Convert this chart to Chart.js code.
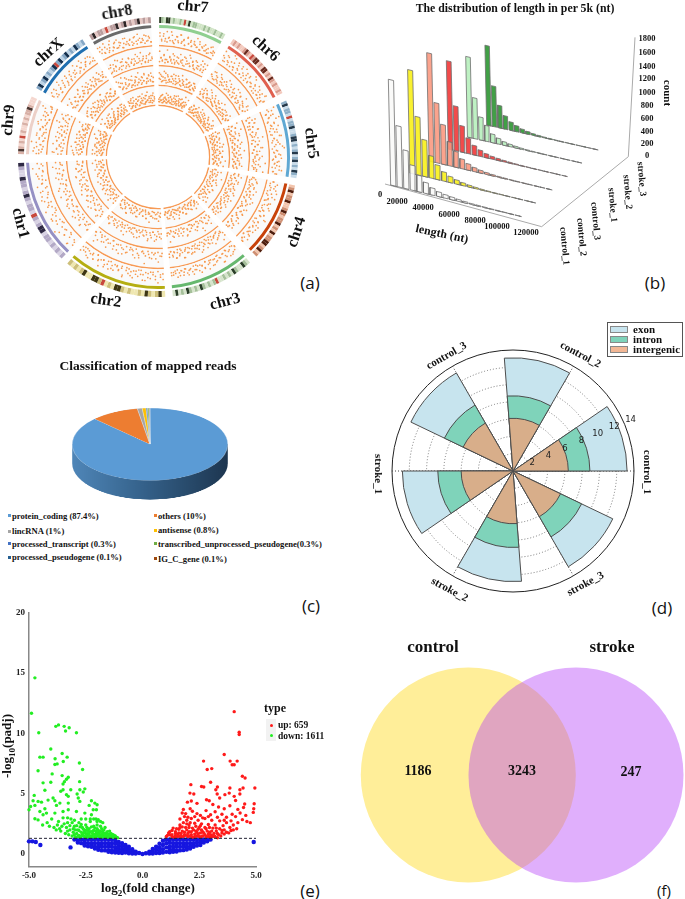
<!DOCTYPE html>
<html>
<head>
<meta charset="utf-8">
<title>Figure</title>
<script src="https://cdn.jsdelivr.net/npm/chart.js@4"></script>
<style>
html, body { margin: 0; padding: 0; background: #fff; }
#page { position: relative; width: 685px; height: 899px; overflow: hidden; }
#page canvas { position: absolute; }
.lbl { position: absolute; white-space: nowrap; line-height: 1; color: #111; transform-origin: center; }
.lbl sub { font-size: 70%; line-height: 0; }
.swatch { position: absolute; }
</style>
</head>
<body>
<div id="page"></div>
<script>
// ---------- DATA: (a) circos ----------
const chrNames = ['chr7', 'chr6', 'chr5', 'chr4', 'chr3', 'chr2', 'chr1', 'chr9', 'chrX', 'chr8'];
const chrStart = [0.5, 32.5, 66.2, 101.7, 138.9, 177, 223.5, 271.2, 299.5, 330.5];
const chrEnd = [28.8, 62.8, 98.7, 135.3, 173.9, 220.4, 267.5, 295.6, 327.3, 357];
const chrColors = ['#8fcf90', '#e0604f', '#5fa8d3', '#c8420a', '#66b86e', '#b5ae12', '#9590c4', '#ecd0c8', '#1f6fb0', '#6a6a6a'];
const chrBands = [
    'dmlddlmwlmlrwdlmmlwlmlmwlmllml',
    'lmlmllmdmlrmddlmlddlmldmlmllml',
    'mdlmmlrlmmdllmddlmlmdlmdlmldml',
    'lmdlmmdllmdmlmmdlmldlmmddlmdlm',
    'lmdllmdlmlmllrmlmlmdlmlmdlmldl',
    'ldmlmdlmllmlmddlmlrmddlldmlmlm',
    'mlmlmlmmlddmlmrlmmlmdmlmmdllmd',
    'mdmlmlrlmllmlmlmmdmlll',
    'mdlmdlmlmdrmdlmdlmldmlm',
    'mdlmmlrlmmdlmdlmlmdlmlm'
];
const bandPalettes = [
    ['#cfe3c4', '#9fbf96', '#2c3a24'], ['#f3c9bd', '#d99a8c', '#6a2a1e'],
    ['#c9dcea', '#8fb0c8', '#24384a'], ['#f2c4ac', '#cf8f72', '#4f1d0c'],
    ['#d6e4cc', '#a5c09a', '#2a3e28'], ['#efe7b0', '#cdbf7a', '#3e3612'],
    ['#d9d3e4', '#b3a9c6', '#2f2a44'], ['#f5d7cf', '#d8b0a6', '#4a3530'],
    ['#bcd3e6', '#86a8c6', '#14304e'], ['#e6c8c4', '#b99c9c', '#2e2626']
];
const trackBase = [112, 92, 72, 52];
// scatter heights above each track baseline, per chromosome (estimated)
const chrHeights = [
    [.7, .3, .5, .2, .8, .4, .25, .6, .15, .35, .55, .2, .7, .3, .45, .1, .65, .25, .4, .15, .5, .3, .2, .6, .12, .35, .45, .18, .3, .1, .55, .25, .4, .15],
    [.5, .2, .65, .35, .15, .45, .8, .25, .1, .55, .3, .7, .2, .4, .12, .6, .28, .5, .18, .35, .75, .22, .45, .1, .3, .55, .2, .4, .15, .62, .25, .35],
    [.8, .4, .2, .6, .3, .9, .15, .5, .25, .7, .35, .1, .55, .2, .75, .3, .45, .12, .6, .25, .85, .35, .18, .5, .28, .65, .1, .4, .22, .55, .3, .7, .16, .42],
    [.35, .6, .15, .45, .25, .7, .1, .5, .3, .2, .55, .4, .12, .65, .28, .18, .5, .35, .75, .1, .42, .22, .6, .3, .15, .5, .25, .38, .1, .55, .2, .33],
    [.3, .15, .5, .25, .6, .1, .4, .2, .7, .3, .12, .45, .22, .55, .16, .35, .1, .5, .28, .65, .18, .38, .1, .42, .25, .55, .14, .32, .2, .48, .1, .3, .22, .4],
    [.25, .45, .1, .6, .3, .15, .5, .2, .7, .35, .1, .4, .22, .55, .16, .3, .65, .12, .45, .25, .18, .5, .1, .35, .6, .2, .28, .42, .12, .5, .18, .3, .55, .15, .38, .22],
    [.6, .3, .8, .4, .15, .55, .25, .7, .35, .1, .5, .2, .65, .3, .45, .12, .75, .25, .4, .18, .55, .3, .6, .15, .45, .22, .7, .35, .1, .5, .28, .62, .2, .4, .16, .5],
    [.4, .75, .2, .55, .3, .9, .15, .45, .65, .25, .1, .5, .35, .7, .2, .6, .12, .4, .3, .55, .18, .8, .25],
    [.55, .25, .4, .7, .15, .35, .6, .2, .45, .1, .3, .65, .22, .5, .14, .4, .25, .75, .18, .35, .1, .55, .28, .42, .16, .6, .2, .33],
    [.45, .7, .25, .55, .15, .4, .8, .3, .6, .2, .5, .12, .35, .65, .25, .45, .1, .55, .3, .72, .18, .4, .6, .22, .5, .15]
];

// ---------- DATA: (b) length distribution ----------
const sampleNames = ['control_1', 'control_2', 'control_3', 'stroke_1', 'stroke_2', 'stroke_3'];
const sampleColors = ['rgba(250,250,248,.9)', 'rgba(248,240,30,.92)', 'rgba(250,150,125,.88)', 'rgba(240,50,50,.88)', 'rgba(185,240,190,.92)', 'rgba(55,155,60,.95)'];
const control1Counts = [1350, 780, 490, 320, 210, 140, 90, 60, 45, 35, 25, 18, 12, 10, 8, 6, 5, 4, 3, 2];
const control2Counts = [1350, 760, 480, 290, 190, 120, 80, 55, 38, 26, 18, 12, 8, 6, 5, 4, 3, 2, 2, 1];
const control3Counts = [1445, 800, 530, 320, 210, 130, 85, 55, 38, 26, 18, 12, 9, 7, 5, 4, 3, 2, 2, 1];
const stroke1Counts = [1205, 610, 360, 210, 130, 85, 55, 38, 28, 20, 14, 10, 7, 5, 4, 3, 2, 2, 1, 1];
const stroke2Counts = [1125, 570, 320, 220, 120, 80, 50, 35, 24, 16, 11, 8, 6, 4, 3, 2, 2, 1, 1, 1];
const stroke3Counts = [1140, 580, 320, 190, 120, 85, 55, 38, 25, 17, 12, 9, 6, 5, 4, 3, 2, 2, 1, 1];
const lengthTicks = ['0', '20000', '40000', '60000', '80000', '100000', '120000'];
const countTicks = ['0', '200', '400', '600', '800', '1000', '1200', '1400', '1600', '1800'];

// ---------- DATA: (c) classification ----------
const readClasses = ['protein_coding', 'others', 'lincRNA', 'antisense', 'processed_transcript', 'transcribed_unprocessed_pseudogene', 'processed_pseudogene', 'IG_C_gene'];
const readShares = [87.4, 10, 1, 0.8, 0.3, 0.3, 0.1, 0.1];
const readColors = ['#5b9bd5', '#ed7d31', '#a5a5a5', '#ffc000', '#4472c4', '#70ad47', '#255e91', '#9e480e'];

// ---------- DATA: (d) rose ----------
// clockwise from the top
const roseSamples = ['control_2', 'control_1', 'stroke_3', 'stroke_2', 'stroke_1', 'control_3'];
const intergenic = [6.1, 6.4, 6.1, 6.1, 6.0, 6.4];
const intron = [2.6, 2.5, 2.7, 2.75, 2.7, 2.4];
const exon = [4.4, 4.3, 4.0, 3.95, 4.1, 4.3];
const roseTicks = [2, 4, 6, 8, 10, 12, 14];

// ---------- DATA: (e) volcano ----------
const volcanoXTicks = [-5, -2.5, 0, 2.5, 5];
const volcanoYTicks = [0, 5, 10, 15, 20];
const padjCut = 1.3;
const downPoints = [
    [-4.74, 14.6], [-4.89, 11.67], [-4.57, 10.05], [-3.82, 10.58], [-3.7, 10.7], [-3.45, 10.58], [-3.39, 10.2], [-3.23, 10.47], [-2.91, 10.05],
    [-4.04, 8.7], [-3.54, 8.33], [-3.32, 8.03], [-4.52, 8.03], [-4.38, 8.03], [-3.85, 7.9], [-3.49, 7.67], [-3.86, 7.42], [-3.76, 7.47], [-2.78, 7.55],
    [-4.6, 6.9], [-3.98, 6.64], [-2.64, 7.0], [-3.54, 6.5], [-3.27, 6.36], [-3.35, 6.2], [-3.44, 6.0], [-3.5, 5.8], [-2.77, 6.0], [-4.38, 5.9], [-4.04, 5.95],
    [-4.77, 4.86], [-4.3, 5.28], [-3.6, 5.2], [-3.5, 5.33], [-3.16, 5.33], [-2.76, 5.33], [-2.54, 5.4], [-2.61, 5.14], [-2.88, 4.97], [-3.35, 4.92], [-3.27, 4.78],
    [-2.83, 4.64], [-3.94, 4.64], [-3.86, 4.42], [-4.16, 4.47], [-4.6, 4.36], [-4.45, 4.3], [-4.82, 4.42], [-4.93, 3.94], [-4.74, 4.03], [-5, 3.67],
    [-2.25, 4.42], [-2.1, 4.22], [-2.0, 4.08], [-2.35, 4.03], [-2.76, 4.36], [-3.27, 4.22], [-3.64, 4.22], [-3.79, 4.03], [-4.3, 3.75], [-4.52, 3.53],
    [-4.74, 2.92], [-4.6, 2.83], [-4.38, 3.25], [-4.23, 3.39], [-3.86, 3.39], [-3.5, 3.53], [-3.27, 3.67], [-2.91, 3.53], [-2.54, 3.39], [-2.17, 3.67], [-2.25, 3.25], [-2.03, 3.67],
    [-4.4, 2.4], [-4.2, 2.6], [-4.1, 2.3], [-4.0, 2.9], [-3.9, 2.2], [-3.8, 2.0], [-3.7, 2.7], [-3.6, 1.9], [-3.55, 2.3], [-3.5, 3.0], [-3.4, 1.7], [-3.35, 2.2], [-3.3, 2.6],
    [-3.25, 1.6], [-3.2, 2.0], [-3.15, 2.9], [-3.1, 1.5], [-3.05, 1.8], [-3.0, 2.3], [-2.95, 1.4], [-2.9, 1.7], [-2.85, 2.0], [-2.8, 2.6], [-2.75, 1.4], [-2.7, 1.8], [-2.65, 2.2],
    [-2.6, 1.5], [-2.55, 1.9], [-2.5, 2.4], [-2.45, 1.4], [-2.4, 1.7], [-2.35, 2.1], [-2.3, 2.7], [-2.25, 1.5], [-2.2, 1.9], [-2.15, 2.3], [-2.1, 1.4], [-2.05, 1.7], [-2.0, 2.1],
    [-2.0, 2.7], [-1.95, 1.5], [-1.9, 1.9], [-1.85, 2.3], [-1.8, 1.4], [-1.75, 1.7], [-1.7, 2.0], [-1.65, 1.45], [-1.6, 1.75], [-1.55, 1.4], [-1.5, 1.6], [-1.45, 1.9], [-1.4, 1.45],
    [-1.35, 1.65], [-1.3, 1.4], [-1.25, 1.55], [-1.15, 1.4], [-2.85, 1.45], [-2.65, 1.6], [-2.5, 1.7], [-2.3, 1.45], [-2.15, 1.65], [-1.95, 1.75], [-1.85, 1.55], [-1.7, 1.5],
    [-3.75, 2.4], [-3.65, 2.1], [-3.45, 2.5], [-3.3, 1.9], [-3.2, 2.35], [-3.1, 2.6], [-3.05, 2.1], [-3, 1.6], [-2.95, 2.0], [-2.9, 2.35], [-2.8, 1.55], [-2.8, 1.95], [-2.75, 2.25],
    [-2.7, 1.5], [-2.7, 2.45], [-2.6, 1.75], [-2.6, 2.05], [-2.55, 1.45], [-2.5, 1.95], [-2.45, 1.6], [-2.45, 2.2], [-2.4, 1.45], [-2.4, 1.95], [-2.35, 1.65], [-2.3, 1.85], [-2.25, 2.25],
    [-2.2, 1.45], [-2.2, 1.7], [-2.15, 1.95], [-2.1, 1.6], [-2.1, 2.15], [-2.05, 1.45], [-2.05, 1.9], [-2, 1.55], [-2, 2.4], [-1.95, 1.95], [-1.9, 1.45], [-1.9, 1.65], [-1.85, 1.85],
    [-1.85, 2.7], [-1.8, 1.6], [-1.8, 2.1], [-1.75, 1.45], [-1.75, 1.9], [-1.7, 1.7], [-1.65, 1.6], [-1.65, 2.2], [-1.6, 1.45], [-1.55, 1.6], [-1.55, 1.85], [-1.5, 1.42], [-1.45, 1.65],
    [-1.4, 1.7], [-1.35, 1.45], [-1.3, 1.6], [-1.25, 1.4], [-1.2, 1.5], [-1.1, 1.35], [-2.3, 2.9], [-2.15, 2.9], [-2.05, 2.9], [-1.95, 2.85], [-1.75, 2.6], [-2.5, 2.9], [-2.7, 2.9], [-3, 2.8], [-3.3, 3.0]
];
const upPoints = [
    [4.04, 11.8], [4.26, 10.1], [4.26, 9.9], [3.6, 8.25], [2.69, 7.7], [3.86, 7.7], [3.95, 7.4], [4.04, 7.4], [4.17, 7.7], [2.85, 7.0], [3.05, 7.08], [4.4, 6.45], [4.52, 6.3],
    [3.0, 5.95], [2.13, 5.75], [2.6, 5.6], [2.7, 5.55], [3.3, 5.55], [3.85, 5.47], [4.95, 5.47], [3.23, 5.33], [4.29, 5.33], [4.43, 5.47], [2.09, 5.05], [2.26, 4.97], [3.29, 4.97],
    [3.63, 4.92], [3.4, 4.64], [3.82, 5.05], [4.04, 4.78], [4.29, 4.97], [2.82, 4.5], [2.94, 4.42], [4.1, 4.44], [4.5, 4.14], [4.92, 4.17], [1.98, 4.3], [2.15, 4.4], [2.4, 4.2],
    [3.1, 4.1], [3.35, 3.9], [3.6, 3.75], [3.85, 4.0], [4.2, 3.7], [4.45, 3.85], [4.9, 3.75], [1.75, 3.4], [1.85, 3.1], [2.1, 3.75], [2.2, 3.55], [2.4, 3.35], [2.55, 3.2], [2.8, 3.6],
    [3.0, 3.25], [3.2, 3.5], [3.5, 3.3], [3.7, 3.05], [3.95, 3.3], [4.1, 3.1], [4.3, 3.4], [4.55, 3.2], [4.88, 3.45], [4.4, 2.85], [4.6, 2.7], [4.75, 2.6], [4.2, 2.6], [3.9, 2.75],
    [1.65, 2.9], [1.65, 2.4], [1.8, 2.6], [1.95, 2.8], [2.05, 2.4], [2.15, 2.95], [2.3, 2.55], [2.45, 2.8], [2.6, 2.5], [2.75, 2.95], [2.9, 2.45], [3.05, 2.8], [3.2, 2.4], [3.4, 2.75],
    [3.55, 2.35], [3.7, 2.6], [3.85, 2.2], [4.0, 2.4], [4.15, 2.1], [3.6, 2.0], [3.4, 2.1], [3.25, 1.9], [3.1, 2.15], [2.95, 1.8], [2.8, 2.1], [2.65, 1.85], [2.5, 2.2], [2.35, 1.9],
    [2.2, 2.15], [2.05, 1.85], [1.9, 2.2], [1.75, 1.9], [1.6, 2.05], [1.45, 1.85], [1.3, 1.95], [1.2, 1.6], [1.05, 1.45], [1.15, 1.75], [1.3, 1.45], [1.45, 1.5], [1.55, 1.65], [1.7, 1.45],
    [1.85, 1.6], [2.0, 1.45], [2.15, 1.6], [2.3, 1.45], [2.45, 1.65], [2.6, 1.45], [2.75, 1.6], [2.9, 1.45], [3.05, 1.55], [3.2, 1.45], [3.35, 1.6], [3.5, 1.75], [3.0, 1.4], [3.3, 1.35],
    [1.1, 1.55], [1.2, 1.85], [1.3, 1.6], [1.35, 2.15], [1.4, 1.4], [1.45, 1.7], [1.5, 2.1], [1.55, 1.45], [1.6, 1.75], [1.65, 1.5], [1.65, 2.2], [1.7, 1.7], [1.75, 2.25], [1.8, 1.45],
    [1.85, 1.8], [1.9, 1.55], [1.95, 2.0], [1.95, 2.5], [2, 1.7], [2.05, 2.2], [2.1, 1.5], [2.1, 2.6], [2.15, 1.85], [2.2, 1.4], [2.25, 2.0], [2.3, 1.65], [2.35, 2.3], [2.4, 1.5], [2.4, 1.8],
    [2.45, 2.05], [2.5, 1.45], [2.55, 1.75], [2.55, 2.35], [2.6, 2.0], [2.65, 1.5], [2.7, 1.75], [2.75, 2.2], [2.8, 1.45], [2.85, 1.9], [2.9, 1.65], [2.95, 2.2], [3, 1.6], [3.05, 1.9],
    [3.1, 1.45], [3.15, 1.7], [3.25, 2.15], [3.3, 1.7], [3.45, 1.5], [3.5, 1.95], [3.6, 1.65], [3.7, 1.8], [3.8, 1.75], [3.9, 1.95], [4, 2.0], [1.8, 3.7], [1.9, 3.35], [2.0, 3.05], [2.3, 3.1],
    [2.65, 3.0], [2.9, 3.1], [3.3, 3.05], [3.6, 2.8]
];
// y values by x column, the dense band under the cut line
const nsColumns = [
    [-3, [1.2]], [-2.85, [1.15, .95]], [-2.7, [1.2, .9]], [-2.55, [1.2, .95, .7]], [-2.4, [1.2, .9, .65]], [-2.25, [1.2, .9, .6]], [-2.1, [1.2, .9, .6, .45]],
    [-1.95, [1.2, .9, .6, .35]], [-1.8, [1.2, .9, .6, .3]], [-1.65, [1.2, .9, .6, .3]], [-1.5, [1.2, .9, .6, .3, .18]], [-1.35, [1.2, .9, .6, .3, .15]],
    [-1.2, [1.1, .85, .55, .3, .12]], [-1.05, [1, .75, .5, .25, .1]], [-.9, [.9, .65, .4, .2, .08]], [-.75, [.75, .5, .3, .12]], [-.6, [.6, .4, .2, .06]],
    [-.45, [.4, .25, .05]], [-.3, [.2, .05]], [-.15, [.08]], [0, [0]], [.15, [.06]], [.3, [.2, .04]], [.45, [.42, .2, .04]], [.6, [.6, .35, .08]],
    [.75, [.85, .55, .25, .08]], [.9, [1.1, .75, .4, .12]], [1.05, [1.2, .9, .55, .18]], [1.2, [1.2, .95, .65, .35, .15]], [1.35, [1.2, .9, .6, .35, .18]],
    [1.5, [1.2, .9, .6, .3, .2]], [1.65, [1.2, .9, .6, .3]], [1.8, [1.2, .9, .6, .32]], [1.95, [1.2, .9, .6, .38]], [2.1, [1.2, .9, .65, .45]], [2.25, [1.2, .9, .6]],
    [2.4, [1.2, .95, .7]], [2.55, [1.2, .95, .75]], [2.7, [1.2, .95]], [2.85, [1.2, 1.05]], [3, [1.2]],
    [-5, [1.05]], [-4.85, [1.05]], [-4.7, [1]], [-4.5, [.75]], [-3.17, [.55]], [4.9, [1]]
];

// ---------- DATA: (f) venn ----------
const vennSets = ['stroke', 'control'];
const vennX = [1, 0];
const vennColors = ['rgba(179,60,248,.41)', 'rgb(255,238,153)'];
const vennCounts = ['1186', '3243', '247'];

// ---------- HELPERS ----------
const SERIF = '"Liberation Serif", serif';
const page = document.getElementById('page');
Chart.defaults.animation = false;
Chart.defaults.layout.autoPadding = false;
Chart.defaults.plugins.legend.display = false;
Chart.defaults.plugins.tooltip.enabled = false;

function addCanvas(x, y, w, h) {
    const c = document.createElement('canvas');
    c.width = w; c.height = h;
    c.style.cssText = `left:${x}px;top:${y}px;width:${w}px;height:${h}px`;
    page.appendChild(c);
    return c;
}

function label(html, x, y, size, rot = 0, opts = {}) {
    const d = document.createElement('div');
    d.className = 'lbl';
    d.innerHTML = html;
    const ax = opts.left ? '0' : '-50%';
    d.style.cssText = `left:${x}px;top:${y}px;font:${opts.weight || 'bold'} ${size}px ${opts.family || SERIF};transform:translate(${ax},-50%) rotate(${rot}deg)`;
    page.appendChild(d);
}

function swatch(x, y, w, h, color, extra = '') {
    const d = document.createElement('div');
    d.className = 'swatch';
    d.style.cssText = `left:${x}px;top:${y}px;width:${w}px;height:${h}px;background:${color};${extra}`;
    page.appendChild(d);
}

const panelFont = { weight: 'normal', family: '"Open Sans", sans-serif' };
label('(a)', 310, 282, 17, 0, panelFont);
label('(b)', 655, 282, 17, 0, panelFont);
label('(c)', 311, 605, 17, 0, panelFont);
label('(d)', 662, 607, 17, 0, panelFont);
label('(e)', 310, 890, 17, 0, panelFont);
label('(f)', 664, 890, 15, 0, panelFont);

// ---------- (a) CIRCOS ----------
function ringData(colorFor) {
    // one slice per chromosome with a transparent gap before it
    const data = [], colors = [];
    let prev = 0;
    chrNames.forEach((_, i) => {
        data.push(chrStart[i] - prev); colors.push('transparent');
        data.push(chrEnd[i] - chrStart[i]); colors.push(colorFor(i));
        prev = chrEnd[i];
    });
    data.push(360 - prev); colors.push('transparent');
    return { data, backgroundColor: colors, borderWidth: 0 };
}

function bandRing() {
    const data = [], colors = [];
    let prev = 0;
    chrNames.forEach((_, i) => {
        data.push(chrStart[i] - prev); colors.push('transparent');
        const step = (chrEnd[i] - chrStart[i]) / chrBands[i].length;
        [...chrBands[i]].forEach(ch => {
            data.push(step);
            const shade = { l: 0, w: 0, m: 1, d: 2 }[ch];
            colors.push(ch === 'r' ? '#c8483c' : bandPalettes[i][shade]);
        });
        prev = chrEnd[i];
    });
    data.push(360 - prev); colors.push('transparent');
    return { data, backgroundColor: colors, borderWidth: 0 };
}

const blank = () => ({ ...ringData(() => 'transparent'), weight: 2 });
const trackFill = w => ({ ...ringData(() => '#fafafa'), weight: w });
const baseline = () => ({ ...ringData(() => '#f79a55'), weight: 1.5 });

new Chart(addCanvas(18, 17, 280, 280), {
    type: 'doughnut',
    data: {
        datasets: [
            { ...bandRing(), weight: 6 },
            blank(),
            { ...ringData(i => chrColors[i]), weight: 3 },
            trackFill(17), baseline(),
            trackFill(18.5), baseline(),
            trackFill(18.5), baseline(),
            trackFill(18.5), baseline()
        ]
    },
    options: { responsive: false, cutout: 51, layout: { padding: 0 } }
});

const circosPoints = [];
trackBase.forEach((base, t) => {
    chrNames.forEach((_, i) => {
        const own = t % 2 ? [...chrHeights[i]].reverse() : chrHeights[i];
        const span = chrEnd[i] - chrStart[i];
        // two lists of different length over one sector give the denser look
        [own, chrHeights[(i + t + 1) % chrNames.length]].forEach(hs => {
            hs.forEach((h, k) => {
                const a = (chrStart[i] + span * (k + .5) / hs.length) * Math.PI / 180;
                const r = base + 1 + h * 16;
                circosPoints.push({ x: r * Math.sin(a), y: r * Math.cos(a) });
            });
        });
    });
});

new Chart(addCanvas(18, 17, 280, 280), {
    type: 'scatter',
    data: { datasets: [{ data: circosPoints, pointRadius: 0.85, pointBackgroundColor: '#f79a4e', pointBorderWidth: 0 }] },
    options: {
        responsive: false,
        layout: { padding: 0 },
        scales: {
            x: { display: false, min: -140, max: 140 },
            y: { display: false, min: -140, max: 140 }
        }
    }
});

const chrLabelPos = [[193, 6, 5], [266, 48, 42], [312, 143, 82], [296, 232, -72], [225, 301, -15], [106, 300, 8], [21, 223, 75], [8, 120, -85], [48, 52, -42], [117, 12, -10]];
chrNames.forEach((n, i) => label(n, chrLabelPos[i][0], chrLabelPos[i][1], 16, chrLabelPos[i][2]));

// ---------- (b) 3D BARS ----------
// the chart works in a 1035x900 box, bars are projected by sample row and length
const rowStart = s => [152 + 57.6 * s, 555 - 36 * s];
const rowEnd = s => [545 + 46 * s, 650 - 40 * s];
const rowPoint = (s, t) => {
    const a = rowStart(s), b = rowEnd(s);
    return { x: a[0] + (b[0] - a[0]) * t, y: a[1] + (b[1] - a[1]) * t };
};
const countScale = s => 0.235 - 0.005 * s;

const allCounts = [control1Counts, control2Counts, control3Counts, stroke1Counts, stroke2Counts, stroke3Counts];
const barSets = [];
allCounts.forEach((counts, s) => {
    counts.forEach((n, i) => {
        const t = i / 20;
        const a = rowPoint(s, t), b = rowPoint(s, t + 0.8 / 20);
        const h = n * countScale(s), lean = h * 0.022;
        barSets.push({
            data: [a, b, { x: b.x - lean, y: b.y - h }, { x: a.x - lean, y: a.y - h }, a],
            showLine: true, fill: 'shape', backgroundColor: sampleColors[s],
            borderColor: '#6f6f6f', borderWidth: 0.8, pointRadius: 0, clip: false
        });
    });
});
const rowLines = sampleNames.map((_, s) => ({
    data: [rowPoint(s, 0), rowPoint(s, 1)],
    showLine: true, borderColor: '#777', borderWidth: 1, borderDash: [7, 5], pointRadius: 0
}));
const frameLine = {
    data: [{ x: 135, y: 552 }, { x: 605, y: 680 }, { x: 865, y: 470 }, { x: 885, y: 112 }],
    showLine: true, borderColor: '#aaa', borderWidth: 1, pointRadius: 0
};

new Chart(addCanvas(340, 0, 345, 300), {
    type: 'scatter',
    data: { datasets: [...barSets, ...rowLines, frameLine] },
    options: {
        responsive: false,
        layout: { padding: 0 },
        scales: {
            x: { display: false, min: 0, max: 1035 },
            y: { display: false, min: 0, max: 900, reverse: true }
        }
    }
});

label('The distribution of length in per 5k (nt)', 515, 8, 11.8);
const lengthPos = [[380, 194], [397, 201], [423, 207], [449, 214], [475, 220], [497, 226], [526, 232]];
lengthTicks.forEach((t, i) => label(t, lengthPos[i][0], lengthPos[i][1], 8.5));
const countPos = [155, 143, 131, 118, 105, 92, 78, 66, 52, 38];
countTicks.forEach((t, i) => label(t, 647, countPos[i], 8.5));
label('length (nt)', 442, 234, 12, 12);
label('count', 668, 93, 11, 90);
const sampleLabelPos = [[565, 246], [582, 237], [596, 221], [613, 205], [628, 192], [642, 179]];
sampleNames.forEach((n, i) => label(n, sampleLabelPos[i][0], sampleLabelPos[i][1], 9.5, 85));

// ---------- (c) PIE ----------
const PIE_DEPTH = 41;
const pieWall = {
    id: 'pieWall',
    beforeDatasetsDraw(chart) {
        const { x, y, outerRadius: r } = chart.getDatasetMeta(0).data[0];
        const { ctx } = chart;
        const g = ctx.createLinearGradient(x - r, 0, x + r, 0);
        g.addColorStop(0, '#4f86b8');
        g.addColorStop(0.45, '#35628b');
        g.addColorStop(1, '#1d3650');
        ctx.save();
        ctx.fillStyle = g;
        ctx.beginPath();
        ctx.moveTo(x + r, y);
        ctx.arc(x, y + PIE_DEPTH, r, 0, Math.PI);
        ctx.lineTo(x - r, y);
        ctx.closePath();
        ctx.fill();
        ctx.restore();
    }
};

const pieCanvas = addCanvas(71.5, 408, 156, 156 + PIE_DEPTH);
pieCanvas.style.transform = 'scaleY(0.465)';
pieCanvas.style.transformOrigin = 'top';
new Chart(pieCanvas, {
    type: 'pie',
    data: {
        labels: readClasses,
        datasets: [{ data: readShares, backgroundColor: readColors, borderColor: '#dfe8f2', borderWidth: 0.4 }]
    },
    options: { responsive: false, layout: { padding: { bottom: PIE_DEPTH } } },
    plugins: [pieWall]
});

label('Classification of mapped reads', 148, 366, 13.5);
const readLegendSuffix = [' (87.4%)', ' (10%)', ' (1%)', ' (0.8%)', ' (0.3%)', '(0.3%)', ' (0.1%)', ' (0.1%)'];
const readLegendPos = [[12, 515.5], [158, 515.5], [12, 531], [158, 530], [12, 543.5], [158, 543.5], [12, 557], [158, 558.5]];
readClasses.forEach((n, i) => {
    const [x, y] = readLegendPos[i];
    swatch(x - 4.5, y - 1.5, 3, 3, readColors[i]);
    label(n + readLegendSuffix[i], x, y, 8.6, 0, { left: true });
});

// ---------- (d) ROSE ----------
const ROSE_WEDGE = 34.4;
// 20px of padding round the 242px plot so the outer tick label is not cut off
const ROSE_PAD = 20;
const roseBox = [372.3, 330, 282, 282];
new Chart(addCanvas(...roseBox), {
    type: 'polarArea',
    data: { labels: roseSamples, datasets: [{ data: [] }] },
    options: {
        responsive: false,
        layout: { padding: ROSE_PAD },
        scales: {
            r: {
                min: 0, max: 14, startAngle: 30,
                ticks: { display: false, stepSize: 2 },
                angleLines: { display: true, color: '#444', lineWidth: 1, borderDash: [1, 2] },
                grid: {
                    circular: true,
                    color: c => c.tick.value === 14 ? '#222' : '#777',
                    lineWidth: 1
                },
                border: { dash: c => c.tick.value === 14 ? [] : [1, 2] }
            }
        }
    }
});

// wedge and gap take turns so each bar has the narrow width of the reference
const withGaps = vals => vals.flatMap(v => [v, 0]);
const wedgeAngles = withGaps(roseSamples.map(() => ROSE_WEDGE)).map(a => a || 60 - ROSE_WEDGE);
const wedgeBorders = withGaps(roseSamples.map(() => 1));
const wedgeLabels = roseSamples.flatMap(n => [n, '']);
const upToIntron = intergenic.map((v, i) => v + intron[i]);
const upToExon = upToIntron.map((v, i) => v + exon[i]);
const roseSet = (vals, color) => ({
    data: withGaps(vals), backgroundColor: color, borderColor: '#4d4d4d',
    borderWidth: wedgeBorders, angle: wedgeAngles
});

const roseTickLabels = {
    id: 'roseTickLabels',
    afterDraw(chart) {
        const s = chart.scales.r, { ctx } = chart, a = 23.5 * Math.PI / 180;
        ctx.save();
        ctx.font = '8.5px "DejaVu Sans", sans-serif';
        ctx.fillStyle = '#222';
        ctx.textAlign = 'center';
        ctx.textBaseline = 'middle';
        roseTicks.forEach(v => {
            const d = s.getDistanceFromCenterForValue(v) + 3 + v * 0.3;
            ctx.fillText(v, s.xCenter + d * Math.cos(a), s.yCenter - d * Math.sin(a));
        });
        ctx.restore();
    }
};

new Chart(addCanvas(...roseBox), {
    type: 'polarArea',
    data: {
        labels: wedgeLabels,
        datasets: [
            roseSet(intergenic, 'rgba(216,174,138,1)'),
            roseSet(upToIntron, 'rgba(127,211,186,1)'),
            roseSet(upToExon, 'rgba(199,228,238,1)')
        ]
    },
    options: {
        responsive: false,
        layout: { padding: ROSE_PAD },
        scales: {
            r: {
                min: 0, max: 14, startAngle: -4.4,
                ticks: { display: false, stepSize: 2 },
                grid: { display: false },
                angleLines: { display: false }
            }
        }
    },
    plugins: [roseTickLabels]
});

const roseLabelPos = { control_1: [648, 472, 90], control_2: [581, 354, 28], control_3: [446, 355, -30], stroke_1: [379, 474, 90], stroke_2: [450, 589, 28], stroke_3: [585, 583, -28] };
roseSamples.forEach(n => label(n, roseLabelPos[n][0], roseLabelPos[n][1], 11, roseLabelPos[n][2]));

swatch(607, 322, 76, 35, '#fff', 'border:1px solid #555;box-sizing:border-box');
const roseLegend = [['exon', '#c7e4ee', 329], ['intron', '#7fd3ba', 339], ['intergenic', '#f2b795', 349]];
roseLegend.forEach(([n, col, y]) => {
    swatch(610, y - 3.5, 18, 7, col, 'border:1px solid #888;box-sizing:border-box');
    label(n, 633, y, 11, 0, { left: true });
});

// ---------- (e) VOLCANO ----------
const toXY = p => ({ x: p[0], y: p[1] });
const nsPoints = nsColumns.flatMap(([x, ys]) => ys.map(y => ({ x, y })));
const xFit = s => { s.height = 23.3; };
const yFit = s => { s.width = 29; };
const tickFont = { family: SERIF, size: 9, weight: 'bold' };

new Chart(addCanvas(0, 600, 275, 290), {
    type: 'scatter',
    data: {
        datasets: [
            { data: [{ x: -5, y: padjCut }, { x: 5, y: padjCut }], showLine: true, borderColor: '#223', borderWidth: 1, borderDash: [3, 2], pointRadius: 0 },
            { data: upPoints.map(toXY), pointRadius: 1.7, pointBackgroundColor: '#ff1a1a', pointBorderWidth: 0, clip: false },
            { data: downPoints.map(toXY), pointRadius: 1.7, pointBackgroundColor: '#22ee22', pointBorderWidth: 0, clip: false },
            { data: nsPoints, pointRadius: 2.2, pointBackgroundColor: '#1616e0', pointBorderWidth: 0, clip: false }
        ]
    },
    options: {
        responsive: false,
        layout: { padding: { top: 12.7, right: 19 } },
        scales: {
            x: {
                min: -5, max: 5,
                afterFit: xFit,
                afterBuildTicks: s => { s.ticks = volcanoXTicks.map(value => ({ value })); },
                border: { color: '#888', width: 1.5 },
                grid: { display: false, tickLength: 2 },
                ticks: { font: tickFont, color: '#222', padding: 2, maxRotation: 0, callback: v => v.toFixed(1) }
            },
            y: {
                min: -1.05, max: 20,
                afterFit: yFit,
                afterBuildTicks: s => { s.ticks = volcanoYTicks.map(value => ({ value })); },
                border: { color: '#888', width: 1.5 },
                grid: { display: false, tickLength: 2 },
                ticks: { font: tickFont, color: '#222', padding: 2 }
            }
        }
    }
});

label('log<sub>2</sub>(fold change)', 148, 888, 13);
label('-log<sub>10</sub>(padj)', 7, 746, 13, -90);
label('type', 275, 708, 12);
swatch(266, 719, 10, 22, '#f2f2f2');
swatch(270, 723.5, 3, 3, '#ff1a1a', 'border-radius:50%');
swatch(270, 734, 3, 3, '#22ee22', 'border-radius:50%');
label('up: 659', 278, 725, 9.5, 0, { left: true });
label('down: 1611', 278, 735.5, 9.5, 0, { left: true });

// ---------- (f) VENN ----------
new Chart(addCanvas(340, 650, 345, 249), {
    type: 'scatter',
    data: {
        datasets: vennSets.map((n, i) => ({
            label: n,
            data: [{ x: vennX[i], y: 0 }],
            pointRadius: 107.5, pointBackgroundColor: vennColors[i], pointBorderWidth: 0, clip: false
        }))
    },
    options: {
        responsive: false,
        layout: { padding: 0 },
        scales: {
            x: { display: false, min: -1.191, max: 2.012 },
            y: { display: false, min: -1, max: 1.008 }
        }
    }
});

label('control', 433, 647, 17);
label('stroke', 612, 647, 17);
label(vennCounts[0], 418, 771, 14);
label(vennCounts[1], 522, 771, 14);
label(vennCounts[2], 631, 771.5, 14);
</script>
</body>
</html>
